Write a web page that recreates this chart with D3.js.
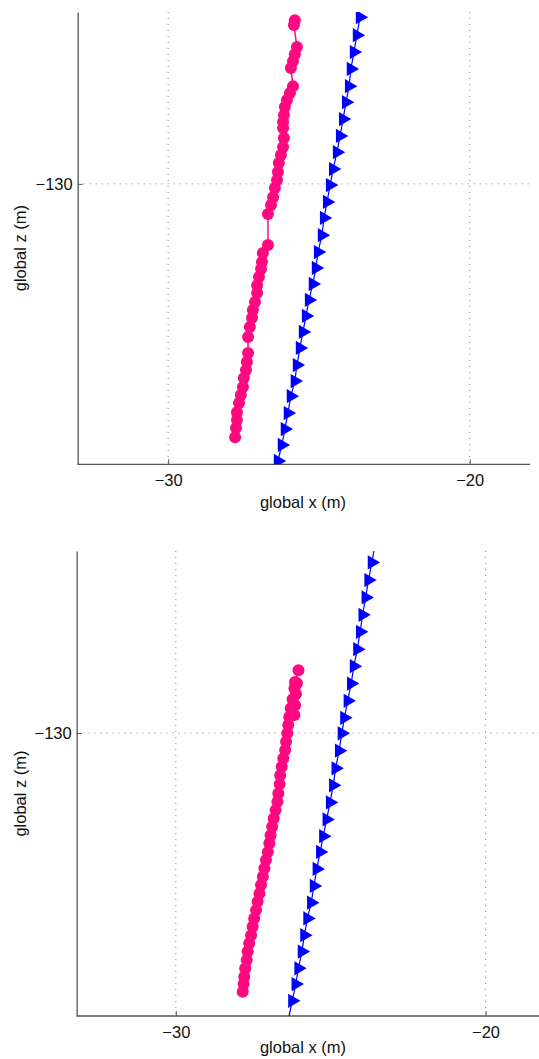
<!DOCTYPE html>
<html>
<head>
<meta charset="utf-8">
<script src="https://cdn.jsdelivr.net/npm/d3@7"></script>
<style>
  body { margin: 0; background: #fff; }
  svg { display: block; font-family: "Liberation Sans", Arial, sans-serif; }
</style>
</head>
<body>
<div id="chart"></div>
<script>
// data (global x / global z, metres)
const xTicks = [-30, -20];
const zTicks = [-130];

const topBlueX = [-23.64, -23.74, -23.84, -23.94, -24.00, -24.10, -24.20, -24.30, -24.40, -24.53, -24.63, -24.73, -24.83, -24.90, -25.03, -25.10, -25.20, -25.33, -25.43, -25.53, -25.63, -25.73, -25.80, -25.93, -26.03, -26.13, -26.23, -26.36];
const topBlueZ = [-124.47, -125.07, -125.63, -126.19, -126.76, -127.29, -127.85, -128.41, -128.95, -129.51, -130.04, -130.60, -131.13, -131.70, -132.26, -132.79, -133.32, -133.85, -134.38, -134.91, -135.44, -136.01, -136.54, -137.04, -137.60, -138.13, -138.66, -139.19];

const topPinkX = [-25.80, -25.83, -25.73, -25.80, -25.86, -25.93, -25.86, -25.96, -26.06, -26.13, -26.16, -26.19, -26.19, -26.16, -26.19, -26.26, -26.33, -26.36, -26.39, -26.46, -26.52, -26.59, -26.69, -26.69, -26.86, -26.89, -26.92, -26.99, -27.05, -27.05, -27.12, -27.19, -27.22, -27.29, -27.35, -27.35, -27.39, -27.42, -27.49, -27.52, -27.59, -27.65, -27.72, -27.72, -27.75, -27.78];
const topPinkZ = [-124.57, -124.73, -125.46, -125.70, -125.93, -126.16, -126.76, -126.99, -127.22, -127.45, -127.72, -127.95, -128.15, -128.48, -128.78, -129.04, -129.31, -129.61, -129.87, -130.14, -130.44, -130.70, -131.00, -132.03, -132.29, -132.59, -132.82, -133.09, -133.36, -133.62, -133.92, -134.18, -134.45, -134.75, -135.08, -135.61, -135.91, -136.17, -136.44, -136.74, -137.00, -137.27, -137.57, -137.83, -138.10, -138.40];

const botBlueX = [-23.57, -23.67, -23.78, -23.87, -23.97, -24.05, -24.14, -24.25, -24.34, -24.45, -24.56, -24.64, -24.73, -24.84, -24.92, -25.02, -25.13, -25.24, -25.34, -25.45, -25.54, -25.63, -25.75, -25.85, -25.93, -26.04, -26.13, -26.24, -26.36];
const botBlueZ = [-123.93, -124.49, -125.06, -125.62, -126.18, -126.73, -127.29, -127.84, -128.40, -128.96, -129.51, -130.01, -130.57, -131.14, -131.69, -132.24, -132.79, -133.33, -133.84, -134.39, -134.94, -135.48, -135.99, -136.53, -137.06, -137.60, -138.11, -138.65, -139.21];

const botPinkX = [-26.04, -26.15, -26.09, -26.17, -26.12, -26.23, -26.15, -26.29, -26.17, -26.34, -26.37, -26.40, -26.44, -26.47, -26.53, -26.58, -26.63, -26.65, -26.69, -26.72, -26.78, -26.84, -26.89, -26.94, -26.98, -27.03, -27.09, -27.14, -27.19, -27.25, -27.30, -27.36, -27.41, -27.47, -27.52, -27.57, -27.63, -27.68, -27.71, -27.76, -27.79, -27.81, -27.84];
const botPinkZ = [-127.97, -128.35, -128.39, -128.55, -128.74, -128.91, -129.10, -129.20, -129.42, -129.48, -129.74, -130.01, -130.28, -130.55, -130.82, -131.09, -131.36, -131.65, -131.95, -132.22, -132.49, -132.76, -133.03, -133.30, -133.56, -133.84, -134.10, -134.37, -134.64, -134.91, -135.18, -135.45, -135.72, -135.99, -136.26, -136.53, -136.79, -137.06, -137.33, -137.60, -137.87, -138.11, -138.36];

const W = 539, H = 1059;
const PINK = '#ff0880', BLUE = '#0000ff', AXIS = '#555';

const svg = d3.select('#chart').append('svg')
  .attr('width', W)
  .attr('height', H);

const panels = [
  { id: 'p1', xDom: [-33, -18], xRange: [77.7, 530], zDom: [-139.3, -124.3], zRange: [464.3, 12],
    labelX: 303, labelY: 508, blueX: topBlueX, blueZ: topBlueZ, pinkX: topPinkX, pinkZ: topPinkZ },
  { id: 'p2', xDom: [-33.2, -18.2], xRange: [76.7, 541.3], zDom: [-139.14, -124.12], zRange: [1016, 551],
    labelX: 303, labelY: 1053, blueX: botBlueX, blueZ: botBlueZ, pinkX: botPinkX, pinkZ: botPinkZ }
];

const tri = d3.symbol().type(d3.symbolTriangle).size(88);

panels.forEach(p => {
  let x = d3.scaleLinear().domain(p.xDom).range(p.xRange);
  let z = d3.scaleLinear().domain(p.zDom).range(p.zRange);
  let x0 = p.xRange[0], x1 = Math.min(p.xRange[1], W);
  let y0 = p.zRange[0], y1 = p.zRange[1];

  svg.append('clipPath').attr('id', 'clip-' + p.id)
    .append('rect')
    .attr('x', x0).attr('y', y1)
    .attr('width', x1 - x0).attr('height', y0 - y1);

  let g = svg.append('g');

  // dotted grid
  g.selectAll('.gx').data(xTicks).enter().append('line')
    .attr('x1', d => x(d)).attr('x2', d => x(d))
    .attr('y1', y1).attr('y2', y0)
    .attr('stroke', '#888').attr('stroke-width', 1)
    .attr('stroke-dasharray', '1,5');
  g.selectAll('.gz').data(zTicks).enter().append('line')
    .attr('x1', x0).attr('x2', x1)
    .attr('y1', d => z(d)).attr('y2', d => z(d))
    .attr('stroke', '#888').attr('stroke-width', 1)
    .attr('stroke-dasharray', '1,5');

  // axes
  let xAxis = g.append('g').attr('transform', `translate(0,${y0})`)
    .call(d3.axisBottom(x).tickValues(xTicks).tickSizeInner(-5).tickSizeOuter(0)
      .tickPadding(10).tickFormat(d => '\u2212' + Math.abs(d)));
  let zAxis = g.append('g').attr('transform', `translate(${x0},0)`)
    .call(d3.axisLeft(z).tickValues(zTicks).tickSizeInner(-5).tickSizeOuter(0)
      .tickPadding(5).tickFormat(d => '\u2212' + Math.abs(d)));
  [xAxis, zAxis].forEach(a => {
    a.select('.domain').attr('stroke', AXIS).attr('stroke-width', 1.3);
    a.selectAll('.tick line').attr('stroke', AXIS);
    a.selectAll('.tick text').attr('fill', '#111').attr('font-size', 16.5)
      .attr('font-family', '"Liberation Sans", Arial, sans-serif');
  });
  xAxis.select('.domain').attr('d', `M${x0},0H${x1}`);

  g.append('text')
    .attr('x', p.labelX).attr('y', p.labelY)
    .attr('text-anchor', 'middle')
    .attr('font-size', 16.5).attr('fill', '#111')
    .text('global x (m)');
  g.append('text')
    .attr('transform', `translate(26,${(y0 + y1) / 2 + 10}) rotate(-90)`)
    .attr('text-anchor', 'middle')
    .attr('font-size', 16.5).attr('fill', '#111')
    .text('global z (m)');

  let plot = g.append('g').attr('clip-path', `url(#clip-${p.id})`);
  let line = d3.line().x(d => x(d[0])).y(d => z(d[1]));

  let blue = p.blueX.map((v, i) => [v, p.blueZ[i]]);
  let pink = p.pinkX.map((v, i) => [v, p.pinkZ[i]]);
  let inside = d => d[1] <= p.zDom[1] && d[1] >= p.zDom[0];

  plot.append('path').datum(pink).attr('d', line)
    .attr('fill', 'none').attr('stroke', PINK).attr('stroke-width', 1.5);
  plot.selectAll('.pk').data(pink).enter().append('circle')
    .attr('cx', d => x(d[0])).attr('cy', d => z(d[1]))
    .attr('r', 6).attr('fill', PINK);

  plot.append('path').datum(blue).attr('d', line)
    .attr('fill', 'none').attr('stroke', BLUE).attr('stroke-width', 1.2);
  plot.selectAll('.bt').data(blue.filter(inside)).enter().append('path')
    .attr('d', tri)
    .attr('transform', d => `translate(${x(d[0])},${z(d[1])}) rotate(90)`)
    .attr('fill', BLUE);
});
</script>
</body>
</html>
